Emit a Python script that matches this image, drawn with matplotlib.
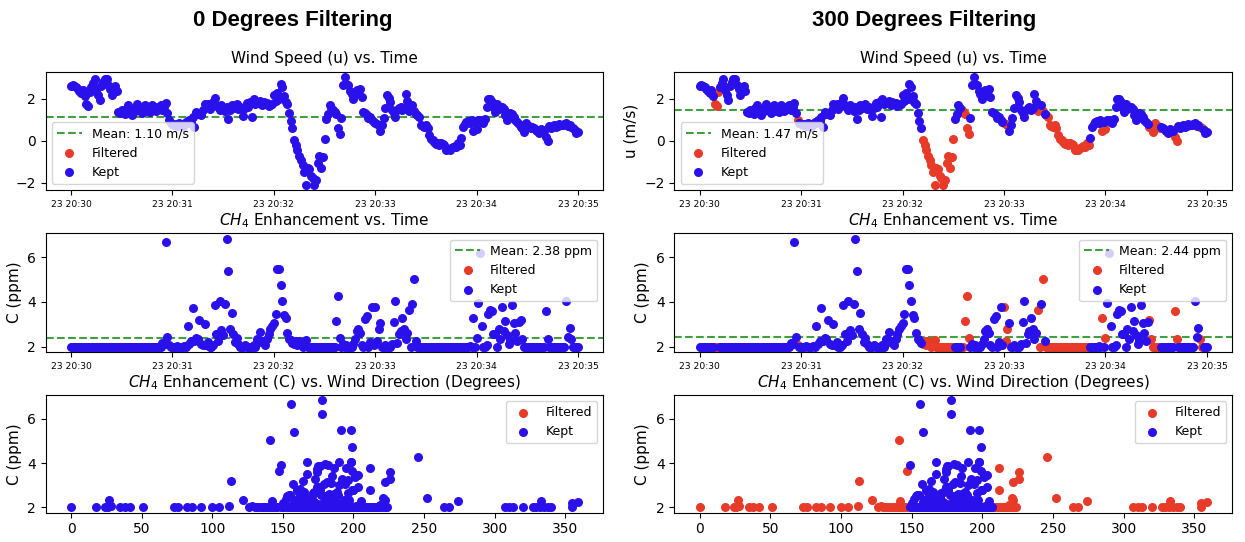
import numpy as np
import pandas as pd
import matplotlib
matplotlib.use("Agg")
import matplotlib.pyplot as plt
import matplotlib.dates as mdates

# ---------------- data (1 sample per second, 23 20:30:00 -> 20:35:00) ----------------
start_time = "2024-05-23 20:30:00"

wind_u = [
    2.6, 2.65, 2.6, 2.55, 2.45, 2.35, 2.25, 2.4, 2.1, 1.75,
    1.65, 2.3, 2.55, 2.75, 2.95, 2.4, 2.15, 1.95, 2.6, 2.8,
    2.95, 2.95, 2.65, 2.45, 2.15, 2.4, 2.6, 2.35, 1.35, 1.3,
    1.45, 1.4, 1.25, 1.55, 1.7, 1.35, 1.2, 1.5, 1.4, 1.75,
    1.45, 1.55, 1.3, 1.5, 1.7, 1.4, 1.6, 1.35, 1.7, 1.5,
    1.4, 1.6, 1.5, 1.7, 1.45, 1.6, 1.8, 1.3, 1.0, 0.85,
    0.8, 0.75, 0.8, 0.7, 0.85, 0.75, 0.65, 0.8, 0.9, 0.85,
    1.0, 0.95, 1.1, 0.65, 1.35, 1.25, 1.3, 1.2, 1.45, 1.75,
    1.6, 1.75, 1.5, 1.65, 1.85, 2.05, 1.7, 1.6, 1.45, 1.7,
    1.55, 1.4, 1.6, 1.05, 1.45, 1.7, 1.55, 1.6, 1.75, 1.5,
    1.6, 1.5, 1.15, 1.55, 1.8, 1.6, 1.85, 1.1, 2.0, 1.75,
    1.85, 1.8, 1.9, 1.7, 1.85, 1.75, 1.8, 1.65, 1.7, 1.75,
    2.15, 1.9, 2.25, 2.0, 2.7, 2.55, 2.1, 1.85, 1.75, 1.3,
    0.95, 0.58, 0.03, -0.2, -0.44, -0.75, -0.91, -1.15, -1.5, -2.09,
    -1.3, -1.35, -1.7, -1.78, -2.09, -1.85, -1.07, -0.75, -1.3, -0.78,
    0.06, 1.01, 1.29, 1.68, 1.55, 1.45, 1.35, 1.29, 0.58, 0.32,
    1.06, 2.63, 3.02, 2.7, 2.65, 2.35, 2.23, 2.0, 2.2, 2.4,
    2.39, 2.45, 2.08, 1.37, 1.3, 1.2, 1.06, 1.13, 1.0, 0.9,
    0.82, 0.78, 0.74, 0.47, 0.74, 1.06, 1.53, 2.16, 2.05, 1.84,
    1.45, 1.3, 1.1, 1.45, 1.55, 1.6, 1.45, 1.55, 2.23, 1.9,
    1.4, 1.45, 1.68, 1.4, 1.29, 1.2, 1.13, 0.75, 0.7, 0.65,
    0.72, 0.6, 0.27, 0.1, 0.03, -0.05, -0.15, -0.1, -0.2, -0.1,
    -0.15, -0.2, -0.44, -0.4, -0.44, -0.35, -0.3, -0.25, -0.3, -0.12,
    -0.2, 0.14, 0.66, 0.8, 0.9, 0.95, 0.85, 0.98, 0.47, 0.9,
    0.55, 0.98, 1.0, 0.9, 0.85, 1.05, 1.6, 2.0, 2.0, 1.85,
    1.6, 1.37, 1.76, 1.5, 1.55, 1.6, 1.5, 1.21, 0.98, 1.1,
    1.3, 1.25, 1.1, 1.0, 0.9, 0.8, 0.66, 0.62, 0.43, 0.82,
    0.66, 0.7, 0.6, 0.66, 0.6, 0.5, 0.45, 0.35, 0.55, 0.5,
    0.45, 0.19, 0.0, 0.69, 0.6, 0.7, 0.75, 0.65, 0.7, 0.8,
    0.72, 0.75, 0.8, 0.85, 0.7, 0.75, 0.66, 0.6, 0.5, 0.35,
    0.4,
]

ch4_c = [
    2.0, 2.0, 2.0, 2.0, 2.0, 2.0, 2.0, 2.0, 2.0, 2.0,
    2.0, 2.0, 2.0, 2.0, 2.0, 2.0, 2.0, 2.0, 2.0, 2.0,
    2.0, 2.0, 2.0, 2.0, 2.0, 2.0, 2.0, 2.0, 2.0, 2.0,
    2.0, 2.0, 2.0, 2.0, 2.0, 2.0, 2.0, 2.0, 2.0, 2.0,
    2.0, 2.0, 2.0, 2.0, 2.0, 2.0, 2.0, 2.0, 2.0, 2.0,
    2.0, 2.0, 2.0, 2.0, 2.15, 2.1, 6.68, 2.45, 2.05, 2.0,
    2.0, 2.0, 2.0, 2.02, 2.0, 2.0, 2.0, 2.02, 2.0, 2.9,
    2.12, 2.27, 3.72, 2.27, 2.4, 2.34, 3.2, 2.12, 2.05, 3.0,
    2.05, 2.2, 2.0, 2.0, 2.05, 3.87, 2.57, 2.27, 4.06, 2.75,
    2.5, 3.9, 6.83, 5.4, 2.8, 3.52, 2.55, 2.2, 2.4, 2.1,
    2.0, 2.0, 2.0, 2.05, 2.0, 2.0, 2.0, 2.0, 2.05, 2.0,
    2.33, 2.2, 2.66, 2.25, 2.18, 2.06, 2.36, 2.55, 2.78, 2.93,
    3.07, 3.45, 5.48, 5.48, 4.74, 4.04, 3.4, 3.3, 2.63, 2.34,
    2.3, 2.15, 2.1, 2.27, 2.05, 2.27, 2.2, 2.0, 2.05, 2.3,
    2.0, 2.0, 2.0, 2.0, 2.0, 2.0, 2.0, 2.0, 2.0, 2.0,
    2.0, 2.0, 2.0, 2.0, 2.0, 2.0, 2.0, 3.15, 4.27, 2.4,
    2.0, 2.1, 2.0, 2.05, 2.0, 2.0, 2.0, 2.1, 2.36, 2.7,
    2.8, 2.6, 2.05, 2.0, 3.22, 3.37, 2.0, 2.2, 3.79, 2.05,
    3.79, 2.25, 2.78, 3.07, 2.0, 2.0, 2.05, 2.0, 2.0, 2.0,
    2.1, 3.1, 4.04, 2.18, 2.55, 2.7, 3.3, 2.8, 2.33, 2.6,
    3.64, 2.0, 3.9, 5.04, 2.25, 2.0, 2.0, 2.0, 2.0, 2.0,
    2.0, 2.0, 2.0, 2.0, 2.0, 2.0, 2.0, 2.0, 2.0, 2.0,
    2.0, 2.0, 2.0, 2.0, 2.0, 2.0, 2.0, 2.0, 2.0, 2.0,
    2.0, 2.0, 2.0, 2.0, 2.0, 2.0, 2.02, 2.0, 3.3, 2.0,
    2.4, 3.94, 6.19, 2.93, 2.0, 2.0, 2.05, 3.46, 3.65, 3.6,
    2.57, 2.55, 2.0, 2.8, 2.34, 3.79, 2.7, 3.15, 2.5, 2.1,
    2.3, 3.85, 3.07, 2.6, 2.25, 3.1, 3.2, 2.33, 2.0, 2.0,
    2.0, 2.0, 2.0, 2.0, 2.0, 2.0, 2.0, 2.0, 2.0, 2.0,
    2.0, 3.61, 2.35, 2.0, 2.0, 2.0, 2.0, 2.0, 2.0, 2.0,
    2.0, 2.0, 2.0, 4.06, 2.42, 2.84, 2.34, 2.0, 2.0, 2.0,
    2.0,
]

wind_dir = [
    172, 165, 181, 158, 190, 176, 168, 200, 184, 0,
    18, 24, 162, 178, 193, 170, 151, 186, 205, 174,
    160, 182, 196, 167, 188, 155, 177, 202, 164, 185,
    171, 149, 192, 180, 159, 198, 175, 166, 187, 204,
    153, 179, 169, 194, 161, 183, 176, 157, 199, 172,
    189, 163, 178, 207, 174, 185, 156, 170, 112, 182,
    166, 195, 173, 150, 187, 179, 160, 203, 168, 176,
    191, 171, 174, 184, 163, 197, 164, 181, 152, 190,
    177, 167, 199, 158, 186, 175, 187, 195, 167, 161,
    180, 149, 178, 158, 199, 167, 155, 150, 186, 195,
    171, 183, 162, 204, 176, 154, 189, 168, 193, 180,
    193, 179, 171, 165, 188, 202, 160, 184, 200, 174,
    194, 201, 191, 198, 199, 198, 185, 173, 196, 168,
    181, 177, 219, 274, 128, 333, 355, 26, 28, 142,
    35, 38, 42, 51, 73, 76, 82, 86, 92, 100,
    105, 185, 163, 176, 197, 130, 132, 222, 246, 221,
    170, 182, 159, 191, 174, 206, 166, 188, 152, 165,
    200, 186, 179, 161, 196, 201, 172, 193, 186, 183,
    212, 359, 212, 157, 180, 169, 198, 175, 190, 164,
    181, 192, 190, 173, 154, 188, 192, 176, 162, 183,
    147, 136, 182, 141, 172, 209, 210, 211, 213, 214,
    215, 217, 218, 220, 222, 224, 126, 134, 137, 139,
    140, 142, 143, 145, 146, 264, 268, 307, 310, 313,
    320, 171, 185, 160, 194, 178, 167, 203, 226, 188,
    252, 180, 178, 203, 156, 191, 174, 203, 199, 174,
    177, 189, 165, 160, 166, 195, 172, 181, 153, 185,
    205, 176, 179, 171, 158, 184, 113, 122, 327, 329,
    332, 335, 338, 170, 187, 340, 162, 196, 175, 183,
    168, 226, 222, 179, 192, 158, 174, 201, 185, 167,
    189, 176, 160, 198, 169, 162, 27, 355, 181, 173,
    190,
]

# 300-degree filtering keeps a 60-degree window of wind directions
keep_min_deg = 148
keep_max_deg = 208

# means shown in the legends
mean_u_all, mean_u_kept = 1.10, 1.47
mean_c_all, mean_c_kept = 2.38, 2.44

panel_titles = ["0 Degrees Filtering", "300 Degrees Filtering"]

# ---------------- preparation ----------------
u = np.array(wind_u)
c = np.array(ch4_c)
d = np.array(wind_dir)
times = pd.date_range(start_time, periods=len(u), freq="s")
kept300 = (d >= keep_min_deg) & (d <= keep_max_deg)
kept0 = np.ones(len(u), dtype=bool)

RED = "#e83a28"
BLUE = "#2a10ea"
GREEN = "green"
S = 30

fig = plt.figure(figsize=(12.45, 5.42), dpi=100)

col_x = [0.0367, 0.5416]
col_w = [0.4479, 0.4482]
row_y = [0.6494, 0.3506, 0.0541]
row_h = [0.2183, 0.2190, 0.2172]

fmt = mdates.DateFormatter("%d %H:%M")

for col, (kept, mu, mc, title) in enumerate([
        (kept0, mean_u_all, mean_c_all, panel_titles[0]),
        (kept300, mean_u_kept, mean_c_kept, panel_titles[1])]):
    filt = ~kept
    ax1 = fig.add_axes([col_x[col], row_y[0], col_w[col], row_h[0]])
    ax2 = fig.add_axes([col_x[col], row_y[1], col_w[col], row_h[1]])
    ax3 = fig.add_axes([col_x[col], row_y[2], col_w[col], row_h[2]])

    # wind speed vs time
    ax1.axhline(mu, color=GREEN, ls="--", lw=1.5, alpha=0.75, label=f"Mean: {mu:.2f} m/s")
    ax1.scatter(times[filt], u[filt], s=S, color=RED, label="Filtered", zorder=2)
    ax1.scatter(times[kept], u[kept], s=S, color=BLUE, label="Kept", zorder=3)
    ax1.set_title("Wind Speed (u) vs. Time", fontsize=11)
    if col == 1:
        ax1.set_ylabel("u (m/s)", fontsize=11)
    ax1.legend(loc="lower left", fontsize=9)

    # CH4 vs time
    ax2.axhline(mc, color=GREEN, ls="--", lw=1.5, alpha=0.75, label=f"Mean: {mc:.2f} ppm")
    ax2.scatter(times[filt], c[filt], s=S, color=RED, label="Filtered", zorder=2)
    ax2.scatter(times[kept], c[kept], s=S, color=BLUE, label="Kept", zorder=3)
    ax2.set_title(r"$CH_4$ Enhancement vs. Time", fontsize=11)
    ax2.set_ylabel("C (ppm)", fontsize=11)
    ax2.legend(loc="upper right", fontsize=9)

    for ax in (ax1, ax2):
        ax.xaxis.set_major_locator(mdates.MinuteLocator())
        ax.xaxis.set_major_formatter(fmt)
        ax.tick_params(axis="x", labelsize=6.6)
        ax.tick_params(axis="y", labelsize=10)

    # CH4 vs wind direction
    ax3.scatter(d[filt], c[filt], s=S, color=RED, label="Filtered", zorder=2)
    ax3.scatter(d[kept], c[kept], s=S, color=BLUE, label="Kept", zorder=3)
    ax3.set_title(r"$CH_4$ Enhancement (C) vs. Wind Direction (Degrees)", fontsize=11)
    ax3.set_ylabel("C (ppm)", fontsize=11)
    ax3.tick_params(labelsize=10)
    ax3.legend(loc="upper right", fontsize=9)

fig.text(0.2355, 0.962, panel_titles[0], ha="center", va="center",
         fontsize=16, fontweight="bold", family=["Liberation Sans", "DejaVu Sans"])
fig.text(0.742, 0.962, panel_titles[1], ha="center", va="center",
         fontsize=16, fontweight="bold", family=["Liberation Sans", "DejaVu Sans"])

fig.savefig("out.png", dpi=100)
